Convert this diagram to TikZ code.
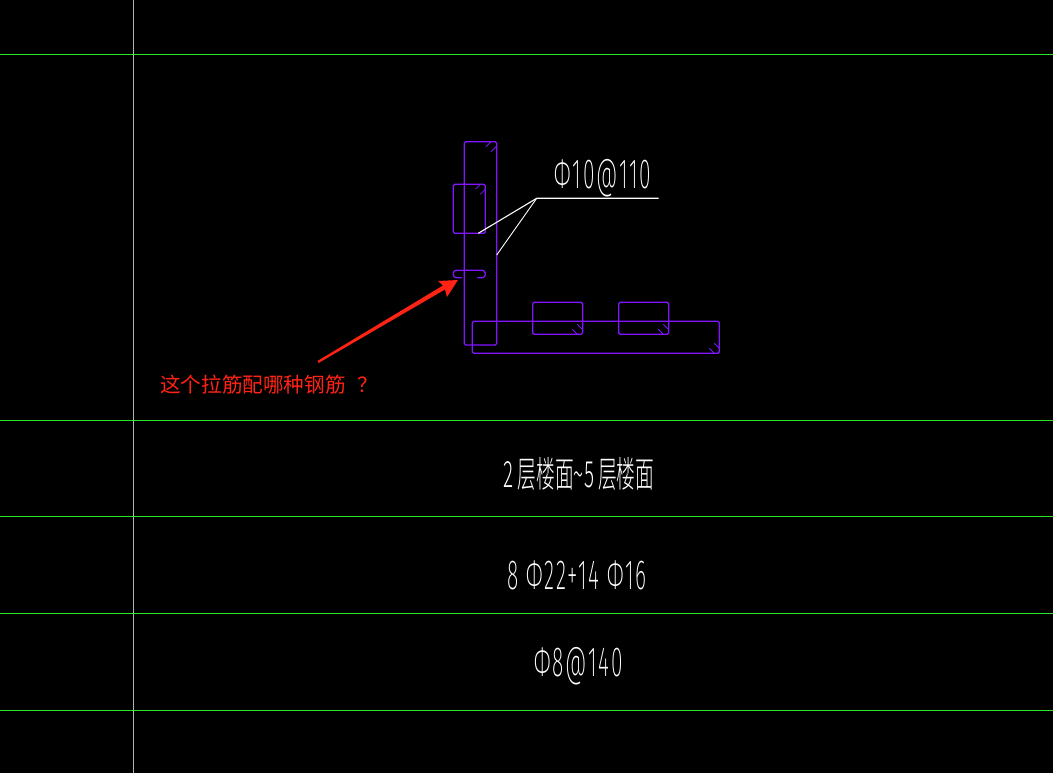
\documentclass[tikz,border=0pt]{standalone}
\usepackage{fontspec}
\newfontfamily\cadfont[LetterSpace=9]{Fira Sans ExtraLight}
\newfontfamily\cjkcad{Noto Sans CJK SC Light}
\newfontfamily\cjknote{Noto Sans CJK SC}
\definecolor{gridgreen}{RGB}{40,235,40}
\definecolor{gridgrey}{RGB}{170,185,170}
\definecolor{barviolet}{RGB}{130,20,255}
\definecolor{notered}{RGB}{255,35,20}
\tikzset{
  gridline/.style={gridgreen,line width=0.9pt},
  bar/.style={draw=barviolet,line width=1.3pt,rounded corners=1.5pt},
  hook/.style={barviolet,line width=0.8pt},
  leader/.style={white,line width=1.1pt},
  cadtext/.style={white,inner sep=0pt,anchor=base,font=\cadfont\fontsize{42}{42}\selectfont,xscale=0.5},
  cjktext/.style={white,inner sep=0pt,font=\cjkcad\fontsize{36}{36}\selectfont,xscale=0.52},
  note/.style={notered,inner sep=0pt,font=\cjknote\fontsize{20.6}{21}\selectfont}
}
\begin{document}
\begin{tikzpicture}[x=1pt,y=-1pt]
  \fill[black] (0,0) rectangle (1053,773);
  \useasboundingbox (0,0) rectangle (1053,773);
  % grid of the table
  \foreach \y in {54,420,516,613,710}
    \draw[gridline] (0,\y) -- (1053,\y);
  \draw[gridgrey,line width=0.9pt] (133,0) -- (133,773);
  % bars
  \draw[bar] (464.3,141.7) rectangle (496.7,345);
  \draw[bar] (453.3,184.3) rectangle (485.3,233.3);
  \draw[bar] (472.3,321.3) rectangle (719.3,353.3);
  \draw[bar] (532.7,302.3) rectangle (582.7,334.3);
  \draw[bar] (618.7,302.3) rectangle (668.7,334.3);
  \draw[bar,rounded corners=3pt] (462,277.7) -- (453.3,277.7) -- (453.3,270.3) -- (485.3,270.3) -- (485.3,277.7) -- (477.3,277.7);
  % hooks
  \foreach \x/\y in {486/146.7,491/151.7,475.3/189.3,480.3/194.3}
    \draw[hook] (\x,\y) -- ++(5,-5);
  \foreach \x in {0,86}{
    \draw[hook] (572.3+\x,329.3) -- ++(5,5);
    \draw[hook] (577.3+\x,324.3) -- ++(5,5);
  }
  \draw[hook] (709.3,348.3) -- ++(5,5);
  \draw[hook] (714.3,343.3) -- ++(5,5);
  % leader
  \coordinate (elbow) at (536.7,198.3);
  \coordinate (leaderend) at (658.7,198.3);
  \coordinate (leftbar) at (478.3,233.3);
  \coordinate (rightbar) at (496.7,255);
  \draw[leader] (leaderend) -- (elbow) -- (leftbar);
  \draw[leader,line width=0.9pt] (elbow) -- (rightbar);
  % red arrow
  \fill[notered] (317.5,361) -- (443,285.5) -- (438,281) -- (458,280) -- (447,297) -- (445,289.5) -- (318.5,363) -- cycle;
  % labels
  \node[cadtext] (stirrup) at (603,189) {Φ10@110};
  \node[cjktext] (floors) at (579,474) {2 层楼面\textasciitilde5 层楼面};
  \node[cadtext] (mainbars) at (577,589) {8 Φ22+14 Φ16};
  \node[cadtext] (spacing) at (578.5,676) {Φ8@140};
  \node[note,anchor=west] (question) at (160,385) {这个拉筋配哪种钢筋\hspace{12pt}？};
\end{tikzpicture}
\end{document}
